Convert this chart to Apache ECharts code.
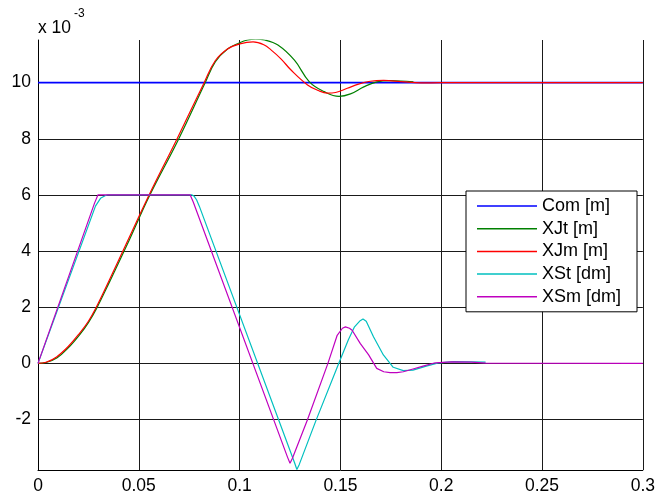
<!DOCTYPE html>
<html>
<head>
<meta charset="utf-8">
<script src="https://cdn.jsdelivr.net/npm/echarts@6/dist/echarts.min.js"></script>
<style>
html,body{margin:0;padding:0;background:#fff;}
#chart{width:658px;height:498px;}
</style>
</head>
<body>
<div id="chart"></div>
<script>
// values in units of 1e-3 (axis annotated "x 10^-3"), time in s
const xTicks = [0, 0.05, 0.1, 0.15, 0.2, 0.25, 0.3];
const yTicks = [-2, 0, 2, 4, 6, 8, 10];
const seriesNames = ['Com [m]', 'XJt [m]', 'XJm [m]', 'XSt [dm]', 'XSm [dm]'];

const comData = [[0, 10], [0.3, 10]];

const xjtData = [
  [0, 0], [0.004, 0.03], [0.0095, 0.2], [0.015, 0.55], [0.021, 1.05], [0.025, 1.45],
  [0.029, 1.95], [0.0356, 2.92], [0.045, 4.35], [0.0553, 5.97], [0.0696, 7.97],
  [0.0828, 9.98], [0.088, 10.75], [0.094, 11.2], [0.1, 11.42], [0.104, 11.52],
  [0.108, 11.55], [0.1124, 11.52], [0.119, 11.34], [0.1272, 10.8], [0.1346, 10.03],
  [0.1419, 9.68], [0.1493, 9.51], [0.155, 9.6], [0.1616, 9.85], [0.1681, 10.03],
  [0.1747, 10.07], [0.18, 10.06], [0.1862, 10.03]
];

const xjmData = [
  [0, 0], [0.004, 0.04], [0.0092, 0.23], [0.015, 0.6], [0.0206, 1.07], [0.025, 1.5],
  [0.0289, 2.0], [0.0354, 2.97], [0.045, 4.45], [0.0551, 6], [0.0693, 8.05],
  [0.0824, 10], [0.0879, 10.78], [0.094, 11.2], [0.1001, 11.38], [0.1067, 11.45],
  [0.112, 11.35], [0.1157, 11.16], [0.1205, 10.85], [0.1255, 10.45], [0.1337, 9.92],
  [0.139, 9.72], [0.1436, 9.63], [0.1476, 9.65], [0.1534, 9.8], [0.159, 9.95],
  [0.1648, 10.05], [0.1714, 10.08], [0.18, 10.04], [0.19, 9.99], [0.2, 10], [0.3, 10]
];

const xstData = [
  [0, 0], [0.0285, 5.6], [0.031, 5.88], [0.0335, 5.98], [0.0346, 6], [0.0764, 6],
  [0.0775, 5.95], [0.0787, 5.82], [0.08, 5.6], [0.1273, -3.55], [0.1284, -3.78],
  [0.1296, -3.6], [0.1378, -2.05], [0.1492, 0], [0.154, 0.85], [0.157, 1.3],
  [0.1598, 1.52], [0.1612, 1.58], [0.1628, 1.5], [0.1664, 0.95], [0.1713, 0.3],
  [0.1762, -0.14], [0.1812, -0.26], [0.186, -0.24], [0.1926, -0.1], [0.199, 0.02],
  [0.206, 0.06], [0.215, 0.05], [0.222, 0.04]
];

const xsmData = [
  [0, 0], [0.028, 5.7], [0.0297, 6], [0.0755, 6], [0.077, 5.75], [0.1238, -3.35],
  [0.125, -3.56], [0.1262, -3.38], [0.1337, -2.0], [0.1438, 0], [0.1484, 1.0],
  [0.151, 1.25], [0.1525, 1.3], [0.1545, 1.25], [0.1558, 1.18], [0.1598, 0.71],
  [0.164, 0.3], [0.168, -0.18], [0.1715, -0.3], [0.1746, -0.33], [0.178, -0.33],
  [0.1812, -0.3], [0.186, -0.2], [0.191, -0.1], [0.197, 0.02], [0.205, 0.05],
  [0.215, 0.04], [0.222, 0.01], [0.3, 0]
];

const chart = echarts.init(document.getElementById('chart'), null, {renderer: 'canvas'});
const FONT = 'Liberation Sans, Arial, sans-serif';

function lineSeries(name, data, color, width, smooth) {
  return {
    name: name, type: 'line', data: data, showSymbol: false, symbol: 'none',
    smooth: smooth,
    lineStyle: {color: color, width: width}, itemStyle: {color: color},
    emphasis: {disabled: true}, z: 3
  };
}

chart.setOption({
  animation: false,
  backgroundColor: '#fff',
  grid: {left: 38, right: 10, top: 40, bottom: 28, containLabel: false},
  xAxis: {
    type: 'value', min: 0, max: 0.3, interval: 0.05,
    axisLine: {show: true, onZero: false, lineStyle: {color: '#000', width: 1}},
    axisTick: {show: false},
    axisLabel: {
      color: '#000', fontFamily: FONT, fontSize: 17.5, margin: 7,
      formatter: function (v) { return String(+v.toFixed(2)); }
    },
    splitLine: {show: true, lineStyle: {color: '#1a1a1a', width: 1}}
  },
  yAxis: {
    type: 'value', min: -3.8, max: 11.52,
    axisLine: {show: true, onZero: false, lineStyle: {color: '#000', width: 1}},
    axisTick: {show: false, customValues: yTicks},
    axisLabel: {
      color: '#000', fontFamily: FONT, fontSize: 17.5, margin: 7,
      customValues: yTicks
    },
    splitLine: {show: true, lineStyle: {color: '#1a1a1a', width: 1}}
  },
  legend: {
    orient: 'vertical', left: 466, top: 191,
    data: seriesNames,
    icon: 'rect',
    backgroundColor: '#fff', borderColor: '#000', borderWidth: 1,
    padding: [6, 16, 6, 11],
    itemWidth: 60, itemHeight: 1.5, itemGap: 4.7,
    textStyle: {color: '#000', fontFamily: FONT, fontSize: 18, lineHeight: 18},
    selectedMode: false
  },
  graphic: [
    {type: 'text', left: 38, top: 19, style: {text: 'x 10', font: '17.5px ' + FONT, fill: '#000'}},
    {type: 'text', left: 74, top: 8, style: {text: '-3', font: '12px ' + FONT, fill: '#000'}}
  ],
  series: [
    lineSeries(seriesNames[0], comData, '#0000ff', 1.6, false),
    lineSeries(seriesNames[1], xjtData, '#008000', 1.2, 0.4),
    lineSeries(seriesNames[2], xjmData, '#ff0000', 1.2, 0.4),
    lineSeries(seriesNames[3], xstData, '#00bfbf', 1.2, false),
    lineSeries(seriesNames[4], xsmData, '#bf00bf', 1.2, false)
  ]
});
</script>
</body>
</html>
